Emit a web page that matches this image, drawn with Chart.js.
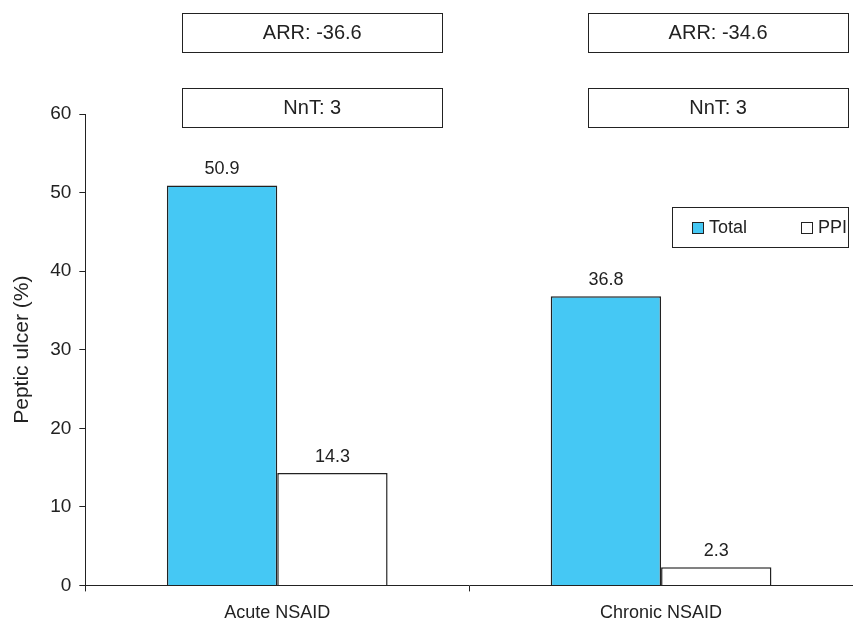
<!DOCTYPE html>
<html>
<head>
<meta charset="utf-8">
<script src="https://cdn.jsdelivr.net/npm/chart.js@4.4.1/dist/chart.umd.min.js"></script>
<style>
  html, body { margin: 0; padding: 0; background: #fff; }
  #wrap { width: 853px; height: 621px; }
</style>
</head>
<body>
<div id="wrap"><canvas id="chart"></canvas></div>
<script>
(function() {
    const categories = ["Acute NSAID", "Chronic NSAID"];
    const totalValues = [50.9, 36.8];
    const ppiValues = [14.3, 2.3];
    const arrLabels = ["ARR: -36.6", "ARR: -34.6"];
    const nntLabels = ["NnT: 3", "NnT: 3"];

    const FONT = "'Liberation Sans', Arial, sans-serif";
    const INK = "#222";
    const EDGE = "#222";

    // value labels over every bar
    const valueLabels = {
        id: "valueLabels",
        afterDatasetsDraw(chart) {
            const ctx = chart.ctx;
            ctx.save();
            ctx.font = "18px " + FONT;
            ctx.fillStyle = INK;
            ctx.textAlign = "center";
            ctx.textBaseline = "alphabetic";
            chart.data.datasets.forEach((ds, i) => {
                chart.getDatasetMeta(i).data.forEach((bar, j) => {
                    ctx.fillText(ds.data[j].toFixed(1), bar.x, bar.y - 11);
                });
            });
            ctx.restore();
        }
    };

    // ARR / NnT boxes above each category, and the boxed legend
    const boxes = {
        id: "boxes",
        afterDraw(chart) {
            const ctx = chart.ctx;
            const x = chart.scales.x;
            ctx.save();
            ctx.strokeStyle = EDGE;
            ctx.lineWidth = 1;
            ctx.font = "20px " + FONT;
            ctx.textAlign = "center";
            ctx.textBaseline = "middle";
            const shifts = [35, 57];
            categories.forEach((c, i) => {
                const cx = x.getPixelForValue(i) + shifts[i];
                const w = 260, h = 39;
                [[13, arrLabels[i]], [88, nntLabels[i]]].forEach(([top, txt]) => {
                    ctx.fillStyle = "#fff";
                    ctx.fillRect(cx - w / 2, top, w, h);
                    ctx.strokeRect(Math.round(cx - w / 2) + 0.5, top + 0.5, w, h);
                    ctx.fillStyle = INK;
                    ctx.fillText(txt, cx, top + h / 2 + 1);
                });
            });

            // legend
            const lx = 672, ly = 207, lw = 176, lh = 40;
            ctx.fillStyle = "#fff";
            ctx.fillRect(lx, ly, lw, lh);
            ctx.strokeRect(lx + 0.5, ly + 0.5, lw, lh);
            ctx.font = "18px " + FONT;
            ctx.textAlign = "left";
            const itemX = [692, 801];
            chart.data.datasets.forEach((ds, i) => {
                const bx = itemX[i], by = ly + 15;
                ctx.fillStyle = ds.backgroundColor;
                ctx.fillRect(bx, by, 11, 11);
                ctx.strokeRect(bx + 0.5, by + 0.5, 11, 11);
                ctx.fillStyle = INK;
                ctx.fillText(ds.label, bx + 17, by + 6);
            });
            ctx.restore();
        }
    };

    new Chart(document.getElementById("chart"), {
        type: "bar",
        data: {
            labels: categories,
            datasets: [
                {
                    label: "Total",
                    data: totalValues,
                    backgroundColor: "#45c8f4",
                    borderColor: EDGE,
                    borderWidth: 1.5,
                    borderSkipped: "bottom"
                },
                {
                    label: "PPI",
                    data: ppiValues,
                    backgroundColor: "#ffffff",
                    borderColor: EDGE,
                    borderWidth: 1.5,
                    borderSkipped: "bottom"
                }
            ]
        },
        options: {
            responsive: true,
            maintainAspectRatio: false,
            animation: false,
            layout: { padding: { top: 114, right: 0, left: 6, bottom: -14 } },
            datasets: { bar: { categoryPercentage: 0.575, barPercentage: 1.0 } },
            plugins: {
                legend: { display: false },
                tooltip: { enabled: false }
            },
            scales: {
                x: {
                    grid: {
                        drawOnChartArea: false,
                        offset: true,
                        tickLength: 6,
                        color: EDGE
                    },
                    border: { color: EDGE, width: 1 },
                    ticks: {
                        color: INK,
                        font: { family: FONT, size: 18 },
                        padding: 11
                    }
                },
                y: {
                    min: 0,
                    max: 60,
                    ticks: {
                        stepSize: 10,
                        color: INK,
                        font: { family: FONT, size: 19 },
                        padding: 8
                    },
                    grid: {
                        drawOnChartArea: false,
                        tickLength: 6,
                        color: EDGE
                    },
                    border: { color: EDGE, width: 1 },
                    title: {
                        display: true,
                        text: "Peptic ulcer (%)",
                        color: INK,
                        font: { family: FONT, size: 21 },
                        padding: { bottom: 7 }
                    }
                }
            }
        },
        plugins: [valueLabels, boxes]
    });
})();
</script>
</body>
</html>
